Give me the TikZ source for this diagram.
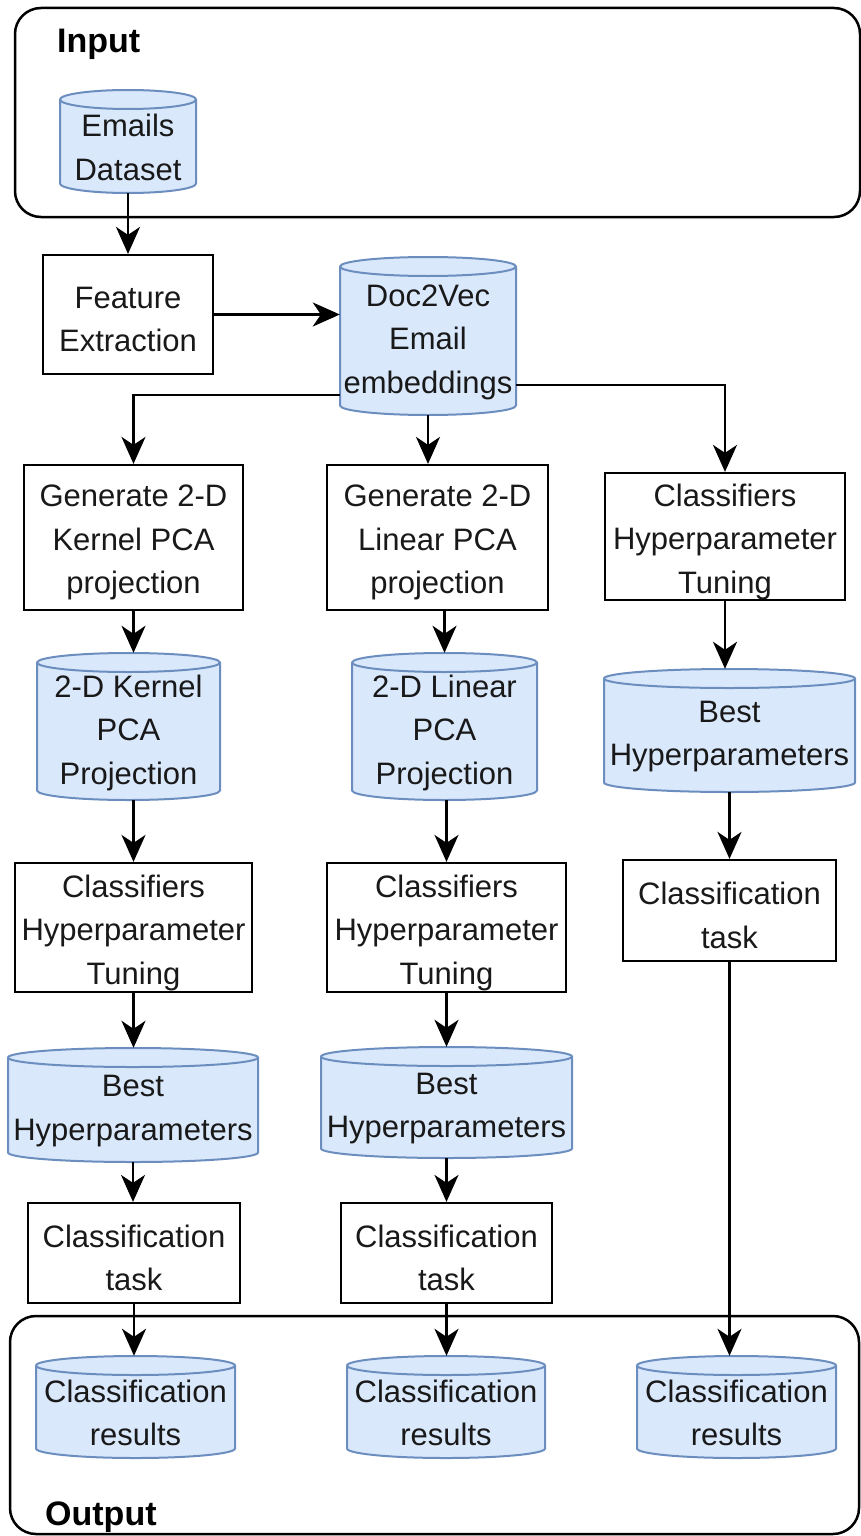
\documentclass[tikz,border=0pt]{standalone}
\usepackage{fontspec}
\setmainfont{Liberation Sans}
\usetikzlibrary{arrows.meta}
\definecolor{cylfill}{HTML}{DAE8FC}
\definecolor{cyldraw}{HTML}{6C8EBF}
\tikzset{
 lbl/.style={font=\fontsize{31}{43.5}\selectfont, align=center, inner sep=0pt, text=black!90},
 procbox/.style={draw=black, fill=white, line width=2.2pt, rectangle, inner sep=0pt},
 cylarea/.style={rectangle, inner sep=0pt},
 cylbody/.style={fill=cylfill, draw=cyldraw, line width=2pt},
 cylrim/.style={draw=cyldraw, line width=2pt},
 container/.style={draw=black, line width=2.5pt, rounded corners=26pt, rectangle, inner sep=0pt},
 title/.style={font=\fontsize{34}{40}\selectfont\bfseries, inner sep=0pt, anchor=base west},
 flow/.style={draw=black, line width=2.4pt, -{Stealth[length=27pt,width=24pt,inset=8pt]}},
}
\newcommand\procnode[6]{%
 \pgfmathsetmacro\pw{#4-#2}\pgfmathsetmacro\ph{#5-#3}%
 \node[procbox, minimum width=\pw pt, minimum height=\ph pt] (#1) at ({(#2+#4)/2},{(#3+#5)/2}) {};
 \node[lbl] (#1t) at ([yshift=-5pt]#1.center) {#6};}
\newcommand\cylnode[6]{%
 \pgfmathsetmacro\pw{#4-#2}\pgfmathsetmacro\ph{#5-#3}\pgfmathsetmacro\prx{(#4-#2)/2}%
 \def\pry{9.5}%
 \draw[cylbody] (#2,#3+\pry) -- (#2,#5-\pry) arc[start angle=180,end angle=360,x radius=\prx pt,y radius=\pry pt] -- (#4,#3+\pry) arc[start angle=0,end angle=180,x radius=\prx pt,y radius=\pry pt] -- cycle;
 \draw[cylrim] (#2,#3+\pry) arc[start angle=180,end angle=360,x radius=\prx pt,y radius=\pry pt];
 \node[cylarea, minimum width=\pw pt, minimum height=\ph pt] (#1) at ({(#2+#4)/2},{(#3+#5)/2}) {};
 \node[lbl] (#1t) at ([yshift=-6pt]#1.center) {#6};}
\begin{document}
\begin{tikzpicture}[x=1pt,y=-1pt]
\useasboundingbox (0,0) rectangle (861,1536);
% containers
\node[container, minimum width=845pt, minimum height=209pt] (inbox) at (437.5,112.5) {};
\node[container, minimum width=849pt, minimum height=218pt] (outbox) at (434.5,1425) {};
\node[title] (intitle) at (57,53) {Input};
\node[title] (outtitle) at (45,1525) {Output};
% nodes
\cylnode{emails}{60}{90}{196}{193}{Emails\\Dataset}
\procnode{feat}{43}{255}{213}{374}{Feature\\Extraction}
\cylnode{dvec}{340}{257}{516}{415}{Doc2Vec\\Email\\embeddings}
\procnode{kgen}{24}{465}{243}{610}{Generate 2-D\\Kernel PCA\\projection}
\procnode{lgen}{327}{465}{548}{610}{Generate 2-D\\Linear PCA\\projection}
\procnode{rcls}{605}{473}{845}{600}{Classifiers\\Hyperparameter\\Tuning}
\cylnode{kcyl}{37}{653}{220}{800}{2-D Kernel\\PCA\\Projection}
\cylnode{lcyl}{352}{653}{537}{800}{2-D Linear\\PCA\\Projection}
\cylnode{rbest}{604}{669}{855}{792}{Best\\Hyperparameters}
\procnode{kcls}{15}{863}{252}{992}{Classifiers\\Hyperparameter\\Tuning}
\procnode{lcls}{327}{863}{566}{992}{Classifiers\\Hyperparameter\\Tuning}
\procnode{rtask}{623}{860}{836}{961}{Classification\\task}
\cylnode{kbest}{8}{1048}{258}{1162}{Best\\Hyperparameters}
\cylnode{lbest}{321}{1047}{572}{1158}{Best\\Hyperparameters}
\procnode{ktask}{28}{1203}{240}{1303}{Classification\\task}
\procnode{ltask}{341}{1203}{552}{1303}{Classification\\task}
\cylnode{kres}{36}{1356}{235}{1458}{Classification\\results}
\cylnode{lres}{347}{1356}{545}{1458}{Classification\\results}
\cylnode{rres}{637}{1356}{836}{1458}{Classification\\results}
% connectors
\draw[flow] (emails.south) -- (feat.north);
\draw[flow] (feat.east) -- (feat.east -| dvec.west);
\draw[flow] ([yshift=20pt]dvec.south west) -| (kgen.north);
\draw[flow] (dvec.south) -- (dvec.south |- lgen.north);
\draw[flow] ([yshift=30pt]dvec.south east) -| (rcls.north);
\draw[flow] (kgen.south) -- (kgen.south |- kcyl.north);
\draw[flow] (lcyl.north |- lgen.south) -- (lcyl.north);
\draw[flow] (rcls.south) -- (rcls.south |- rbest.north);
\draw[flow] (kcls.north |- kcyl.south) -- (kcls.north);
\draw[flow] (lcls.north |- lcyl.south) -- (lcls.north);
\draw[flow] (rbest.south) -- (rtask.north);
\draw[flow] (kcls.south) -- (kcls.south |- kbest.north);
\draw[flow] (lcls.south) -- (lcls.south |- lbest.north);
\draw[flow] (kbest.south) -- (kbest.south |- ktask.north);
\draw[flow] (lbest.south) -- (lbest.south |- ltask.north);
\draw[flow] (ktask.south) -- (ktask.south |- kres.north);
\draw[flow] (ltask.south) -- (ltask.south |- lres.north);
\draw[flow] (rtask.south) -- (rtask.south |- rres.north);
\end{tikzpicture}
\end{document}
